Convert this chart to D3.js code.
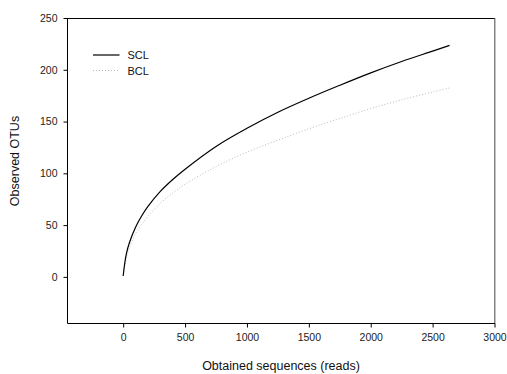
<!DOCTYPE html>
<html><head><meta charset="utf-8">
<script src="https://cdn.jsdelivr.net/npm/d3@7"></script>
<style>body{margin:0;background:#fff}svg{display:block}</style>
</head><body>
<svg id="c" width="507" height="374"></svg>
<script>
const depths = [0, 10, 25, 50, 100, 150, 200, 300, 400, 500, 750, 1000, 1250, 1500, 1750, 2000, 2250, 2500, 2637];
const sclValues = [1, 11, 22, 33, 48, 59, 68, 82.5, 94, 104, 126, 143.5, 159, 172.5, 185, 197, 208, 218, 223.5];
const bclValues = [1, 9, 18, 28, 42, 51, 58.5, 71, 81, 89.5, 106.5, 120.5, 132, 143, 153, 162.5, 171, 178.5, 182.5];
const xTicks = [0, 500, 1000, 1500, 2000, 2500, 3000];
const yTicks = [0, 50, 100, 150, 200, 250];
const seriesNames = ["SCL", "BCL"];

const svg = d3.select("#c");
const font = "'Liberation Sans', Arial, sans-serif";
const x = d3.scaleLinear().domain([-450, 3000]).range([67.5, 494.5]);
const y = d3.scaleLinear().domain([-45, 250]).range([323.5, 18]);

// frame
svg.append("line").attr("x1", 67.5).attr("x2", 495).attr("y1", 18.5).attr("y2", 18.5).attr("stroke", "#000");
svg.append("line").attr("x1", 494.8).attr("x2", 494.8).attr("y1", 18).attr("y2", 323.5).attr("stroke", "#666").attr("stroke-width", 1.2);

const xa = svg.append("g").attr("transform", "translate(0,323.5)")
  .call(d3.axisBottom(x).tickValues(xTicks).tickSize(4).tickPadding(6).tickFormat(d3.format("d")));
xa.select(".domain").attr("d", `M${67.5},0H${495}`);
const ya = svg.append("g").attr("transform", "translate(67.5,0)")
  .call(d3.axisLeft(y).tickValues(yTicks).tickSize(4).tickPadding(6));
ya.select(".domain").attr("d", `M0,${18}V${323.5}`);
svg.selectAll(".tick text").attr("font-family", font).attr("font-size", 10.5).attr("fill", "#222");

const line = d3.line().x((d, i) => x(depths[i])).y(d => y(d)).curve(d3.curveCatmullRom.alpha(0.5));
svg.append("path").attr("d", line(bclValues)).attr("fill", "none").attr("stroke", "#bbb").attr("stroke-width", 1).attr("stroke-dasharray", "1,2");
svg.append("path").attr("d", line(sclValues)).attr("fill", "none").attr("stroke", "#000").attr("stroke-width", 1.2);

// legend
const lg = svg.append("g");
seriesNames.forEach((n, i) => {
  const yy = 55 + i * 15.5;
  lg.append("line").attr("x1", 93).attr("x2", 119.5).attr("y1", yy).attr("y2", yy)
    .attr("stroke", i === 0 ? "#000" : "#bbb").attr("stroke-width", i === 0 ? 1.2 : 1)
    .attr("stroke-dasharray", i === 0 ? null : "1,2");
  lg.append("text").attr("x", 127.5).attr("y", yy + 4).text(n)
    .attr("font-family", font).attr("font-size", 11).attr("fill", "#111");
});

svg.append("text").attr("x", 281).attr("y", 370).attr("text-anchor", "middle")
  .attr("font-family", font).attr("font-size", 12.5).attr("fill", "#111").text("Obtained sequences (reads)");
svg.append("text").attr("transform", "translate(19,161) rotate(-90)").attr("text-anchor", "middle")
  .attr("font-family", font).attr("font-size", 12.5).attr("fill", "#111").text("Observed OTUs");
</script>
</body></html>
